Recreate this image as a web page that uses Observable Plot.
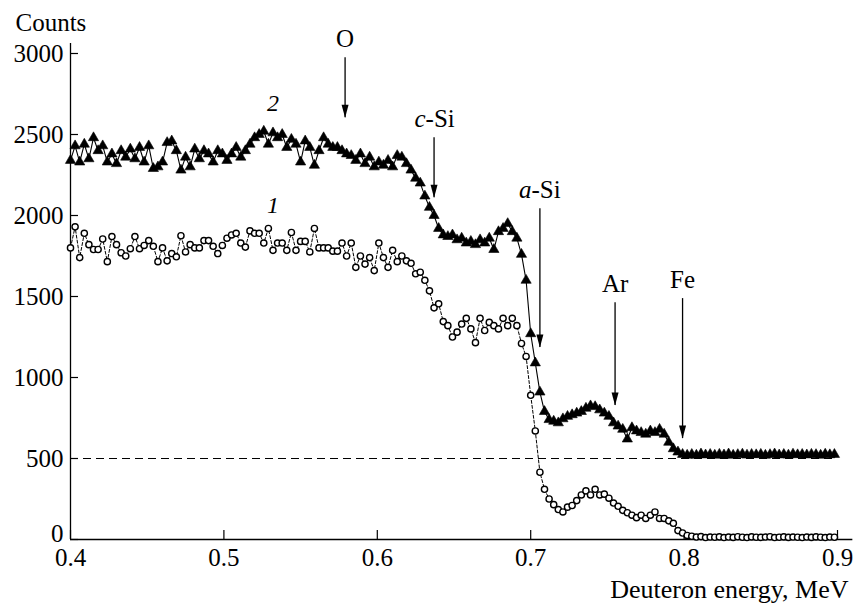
<!DOCTYPE html>
<html>
<head>
<meta charset="utf-8">
<script src="https://cdn.jsdelivr.net/npm/d3@7"></script>
<script src="https://cdn.jsdelivr.net/npm/@observablehq/plot@0.6"></script>
<style>
  html, body { margin: 0; padding: 0; background: #fff; }
  #chart svg, #chart svg text { font-family: "Liberation Serif", "Times New Roman", Times, serif !important; }
</style>
</head>
<body>
<div id="chart"></div>
<script>
// Deuteron energy (MeV) of each channel
const energies = [
  0.400,0.403,0.406,0.409,0.412,0.415,0.418,0.421,0.424,0.427,
  0.430,0.433,0.436,0.439,0.442,0.445,0.448,0.451,0.454,0.457,
  0.460,0.463,0.466,0.469,0.472,0.475,0.478,0.481,0.484,0.487,
  0.490,0.493,0.496,0.499,0.502,0.505,0.508,0.511,0.514,0.517,
  0.520,0.523,0.526,0.529,0.532,0.535,0.538,0.541,0.544,0.547,
  0.550,0.553,0.556,0.559,0.562,0.565,0.568,0.571,0.574,0.577,
  0.580,0.583,0.586,0.589,0.592,0.595,0.598,0.601,0.604,0.607,
  0.610,0.613,0.616,0.619,0.622,0.625,0.628,0.631,0.634,0.637,
  0.640,0.643,0.646,0.649,0.652,0.655,0.658,0.661,0.664,0.667,
  0.670,0.673,0.676,0.679,0.682,0.685,0.688,0.691,0.694,0.697,
  0.700,0.703,0.706,0.709,0.712,0.715,0.718,0.721,0.724,0.727,
  0.730,0.733,0.736,0.739,0.742,0.745,0.748,0.751,0.754,0.757,
  0.760,0.763,0.766,0.769,0.772,0.775,0.778,0.781,0.784,0.787,
  0.790,0.793,0.796,0.799,0.802,0.805,0.808,0.811,0.814,0.817,
  0.820,0.823,0.826,0.829,0.832,0.835,0.838,0.841,0.844,0.847,
  0.850,0.853,0.856,0.859,0.862,0.865,0.868,0.871,0.874,0.877,
  0.880,0.883,0.886,0.889,0.892,0.895,0.898
];

// Spectrum 1 (open circles)
const counts1 = [
  1800,1930,1740,1890,1820,1790,1790,1855,1715,1870,
  1820,1770,1750,1795,1870,1795,1815,1845,1810,1715,
  1800,1720,1765,1745,1875,1775,1820,1800,1800,1845,
  1845,1810,1765,1815,1860,1880,1890,1830,1805,1905,
  1890,1890,1830,1920,1785,1830,1830,1785,1895,1785,
  1840,1840,1775,1920,1800,1800,1800,1780,1780,1830,
  1750,1830,1680,1750,1700,1740,1660,1830,1740,1680,
  1785,1715,1750,1720,1705,1640,1650,1600,1535,1430,
  1455,1345,1320,1250,1280,1330,1365,1300,1215,1365,
  1290,1340,1320,1300,1365,1320,1365,1320,1210,1130,
  890,670,415,310,250,215,185,170,200,210,
  240,275,300,275,310,275,280,255,225,205,
  180,165,150,135,150,130,150,170,130,130,
  115,100,55,40,25,20,15,18,12,15,
  14,16,12,15,13,17,14,12,16,14,
  13,15,17,12,14,16,13,15,14,12,
  15,13,16,14,12,15,14
];

// Spectrum 2 (filled triangles)
const counts2 = [
  2340,2430,2330,2440,2350,2480,2400,2430,2330,2380,
  2320,2400,2360,2410,2350,2420,2330,2430,2290,2300,
  2330,2450,2460,2400,2280,2360,2300,2410,2350,2400,
  2380,2330,2400,2380,2340,2380,2420,2360,2400,2440,
  2480,2500,2520,2440,2510,2480,2500,2420,2470,2440,
  2330,2460,2420,2310,2400,2480,2440,2420,2420,2400,
  2380,2370,2340,2380,2320,2360,2300,2330,2310,2340,
  2300,2370,2360,2320,2280,2230,2200,2120,2050,2000,
  1920,1880,1870,1880,1850,1860,1830,1840,1820,1850,
  1830,1860,1790,1900,1920,1950,1900,1860,1760,1600,
  1270,1090,910,790,740,730,720,745,760,770,
  780,790,810,825,820,800,780,760,720,700,
  680,620,690,670,660,650,670,660,680,650,
  600,560,540,525,520,525,520,528,522,525,
  520,526,522,528,520,524,527,521,525,523,
  526,520,524,528,522,525,521,527,523,525,
  522,526,524,520,527,523,525
];

const xTicks = [0.4, 0.5, 0.6, 0.7, 0.8, 0.9];
const yTicks = [0, 500, 1000, 1500, 2000, 2500, 3000];
const baseline = [500];

// Element edge annotations
const elementLabels = ["O", "c-Si", "a-Si", "Ar", "Fe"];
const edgeEnergy = [0.579, 0.637, 0.706, 0.755, 0.799];
const arrowTop = [2974, 2480, 2042, 1462, 1487];
const arrowTip = [2604, 2110, 1185, 827, 623];

// Curve labels
const curveLabels = ["2", "1"];
const curveLabelEnergy = [0.532, 0.532];
const curveLabelCounts = [2690, 2061];

const series1 = energies.map((e, i) => ({e, c: counts1[i]}));
const series2 = energies.map((e, i) => ({e, c: counts2[i]}));
const arrows = elementLabels.map((t, i) => ({t, x: edgeEnergy[i], top: arrowTop[i], tip: arrowTip[i]}));
const plainArrows = arrows.filter(d => !d.t.includes("-"));
const splitArrows = arrows.filter(d => d.t.includes("-")).map(d => ({...d, pre: d.t.split("-")[0], post: "-" + d.t.split("-")[1]}));
const curves = curveLabels.map((t, i) => ({t, x: curveLabelEnergy[i], y: curveLabelCounts[i]}));
const yZero = yTicks.filter(d => d === 0);
const yRest = yTicks.filter(d => d !== 0);

const font = "'Liberation Serif', 'Times New Roman', Times, serif";
const headSymbol = {
  draw(context) {
    context.moveTo(0, 0);
    context.lineTo(-3.5, -13);
    context.lineTo(3.5, -13);
    context.closePath();
  }
};

const chart = Plot.plot({
  width: 854,
  height: 604,
  marginLeft: 70,
  marginRight: 17,
  marginTop: 53,
  marginBottom: 65,
  style: {fontFamily: font, fontSize: "25px", color: "black", background: "white", overflow: "visible"},
  x: {domain: [0.4, 0.9]},
  y: {domain: [0, 3000]},
  marks: [
    // axis lines
    Plot.ruleY([0], {x1: 0.4, x2: 0.91, stroke: "black", strokeWidth: 1.3}),
    Plot.ruleX([0.4], {y1: 0, y2: 3062, stroke: "black", strokeWidth: 1.3}),
    // inward ticks
    Plot.axisX(xTicks, {tickSize: 9, dy: -9, tickFormat: () => "", label: null, strokeWidth: 1.2}),
    Plot.axisY(yTicks, {tickSize: 8, dx: 8, tickFormat: () => "", label: null, strokeWidth: 1.2}),
    // tick labels
    Plot.axisX(xTicks, {tickSize: 0, tickPadding: 9, tickFormat: d3.format(".1f"), label: null, fontSize: 25}),
    Plot.axisY(yRest, {tickSize: 0, tickPadding: 7, tickFormat: d => String(d), label: null, fontSize: 25}),
    Plot.axisY(yZero, {tickSize: 0, tickPadding: 7, dy: -6, tickFormat: d => String(d), label: null, fontSize: 25}),
    // axis titles
    Plot.text(["Counts"], {frameAnchor: "top-left", text: d => d, textAnchor: "start", lineAnchor: "middle", dx: -55, dy: -31, fontSize: 25}),
    Plot.text(["Deuteron energy, MeV"], {frameAnchor: "bottom-right", text: d => d, textAnchor: "end", lineAnchor: "middle", dx: 11, dy: 50, fontSize: 26}),
    // 500 dashed reference
    Plot.ruleY(baseline, {stroke: "black", strokeWidth: 1.1, strokeDasharray: "8,5"}),
    // spectrum 1
    Plot.line(series1, {x: "e", y: "c", stroke: "black", strokeWidth: 1, strokeDasharray: "3,2"}),
    Plot.dot(series1, {x: "e", y: "c", r: 3.1, fill: "white", stroke: "black", strokeWidth: 1.4}),
    // spectrum 2
    Plot.line(series2, {x: "e", y: "c", stroke: "black", strokeWidth: 1.1}),
    Plot.dot(series2, {x: "e", y: "c", symbol: "triangle", r: 3.8, fill: "black", stroke: "black", strokeWidth: 0.6}),
    // arrows
    Plot.ruleX(arrows, {x: "x", y1: "top", y2: "tip", stroke: "black", strokeWidth: 1.3}),
    Plot.dot(arrows, {x: "x", y: "tip", symbol: headSymbol, r: 3, fill: "black", stroke: "none"}),
    Plot.text(plainArrows, {x: "x", y: "top", text: "t", dy: -19, lineAnchor: "middle", fontSize: 25}),
    Plot.text(splitArrows, {x: "x", y: "top", text: "pre", textAnchor: "end", dx: -8.5, dy: -19, lineAnchor: "middle", fontSize: 25, fontStyle: "italic"}),
    Plot.text(splitArrows, {x: "x", y: "top", text: "post", textAnchor: "start", dx: -8.5, dy: -19, lineAnchor: "middle", fontSize: 25}),
    // curve labels
    Plot.text(curves, {x: "x", y: "y", text: "t", lineAnchor: "middle", fontSize: 24, fontStyle: "italic"})
  ]
});

document.getElementById("chart").appendChild(chart);
</script>
</body>
</html>
